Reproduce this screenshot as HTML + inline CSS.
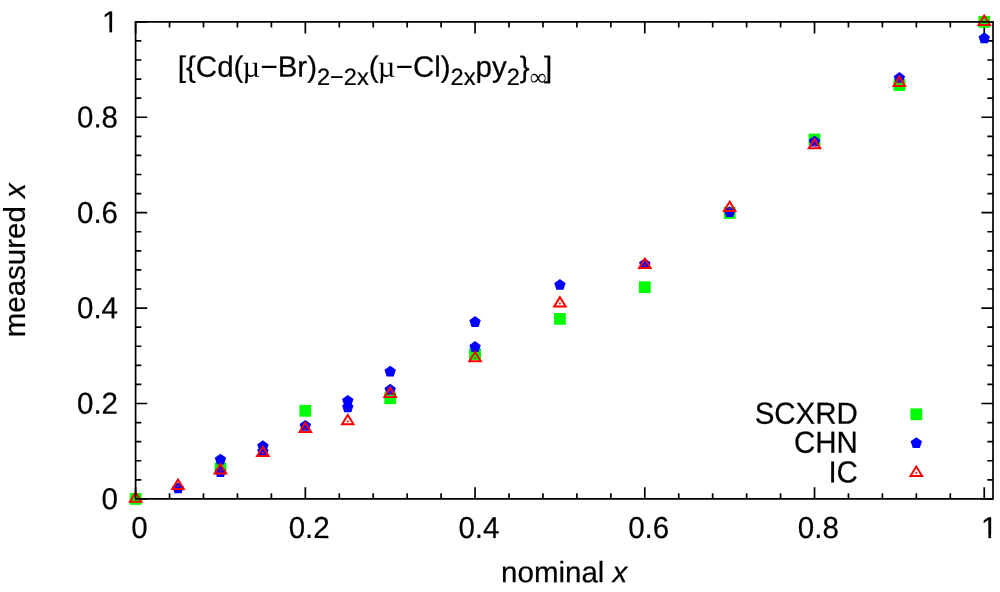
<!DOCTYPE html>
<html lang="en"><head><meta charset="utf-8"><title>measured x vs nominal x</title>
<style>html,body{margin:0;padding:0;background:#fff}body{width:1000px;height:592px;overflow:hidden}svg{display:block}text{font-family:"Liberation Sans",sans-serif;font-size:29.5px;fill:#000;stroke:#000;stroke-width:0.22px}.sym{font-family:"Liberation Serif",serif;stroke:none}.it{font-style:italic}</style></head><body>
<svg width="1000" height="592" viewBox="0 0 1000 592">
<rect width="1000" height="592" fill="#fff"/>
<g fill="none" stroke="#000" stroke-width="1.7">
<path d="M135.6 498.9v-11.6M135.6 21.85v11.6M169.55 498.9v-5.7M169.55 21.85v5.7M203.49 498.9v-5.7M203.49 21.85v5.7M237.44 498.9v-5.7M237.44 21.85v5.7M271.38 498.9v-5.7M271.38 21.85v5.7M305.33 498.9v-11.6M305.33 21.85v11.6M339.28 498.9v-5.7M339.28 21.85v5.7M373.22 498.9v-5.7M373.22 21.85v5.7M407.17 498.9v-5.7M407.17 21.85v5.7M441.11 498.9v-5.7M441.11 21.85v5.7M475.06 498.9v-11.6M475.06 21.85v11.6M509.01 498.9v-5.7M509.01 21.85v5.7M542.95 498.9v-5.7M542.95 21.85v5.7M576.9 498.9v-5.7M576.9 21.85v5.7M610.84 498.9v-5.7M610.84 21.85v5.7M644.79 498.9v-11.6M644.79 21.85v11.6M678.74 498.9v-5.7M678.74 21.85v5.7M712.68 498.9v-5.7M712.68 21.85v5.7M746.63 498.9v-5.7M746.63 21.85v5.7M780.57 498.9v-5.7M780.57 21.85v5.7M814.52 498.9v-11.6M814.52 21.85v11.6M848.47 498.9v-5.7M848.47 21.85v5.7M882.41 498.9v-5.7M882.41 21.85v5.7M916.36 498.9v-5.7M916.36 21.85v5.7M950.3 498.9v-5.7M950.3 21.85v5.7M984.25 498.9v-11.6M984.25 21.85v11.6M135.6 498.9h11.6M993 498.9h-11.6M135.6 479.82h5.7M993 479.82h-5.7M135.6 460.74h5.7M993 460.74h-5.7M135.6 441.65h5.7M993 441.65h-5.7M135.6 422.57h5.7M993 422.57h-5.7M135.6 403.49h11.6M993 403.49h-11.6M135.6 384.41h5.7M993 384.41h-5.7M135.6 365.33h5.7M993 365.33h-5.7M135.6 346.24h5.7M993 346.24h-5.7M135.6 327.16h5.7M993 327.16h-5.7M135.6 308.08h11.6M993 308.08h-11.6M135.6 289h5.7M993 289h-5.7M135.6 269.92h5.7M993 269.92h-5.7M135.6 250.83h5.7M993 250.83h-5.7M135.6 231.75h5.7M993 231.75h-5.7M135.6 212.67h11.6M993 212.67h-11.6M135.6 193.59h5.7M993 193.59h-5.7M135.6 174.51h5.7M993 174.51h-5.7M135.6 155.42h5.7M993 155.42h-5.7M135.6 136.34h5.7M993 136.34h-5.7M135.6 117.26h11.6M993 117.26h-11.6M135.6 98.18h5.7M993 98.18h-5.7M135.6 79.1h5.7M993 79.1h-5.7M135.6 60.01h5.7M993 60.01h-5.7M135.6 40.93h5.7M993 40.93h-5.7M135.6 21.85h11.6M993 21.85h-11.6"/>
</g>
<g fill="#00ff00">
<rect x="129.7" y="493" width="11.8" height="11.8"/>
<rect x="214.56" y="462.61" width="11.8" height="11.8"/>
<rect x="299.43" y="404.89" width="11.8" height="11.8"/>
<rect x="384.29" y="392.39" width="11.8" height="11.8"/>
<rect x="469.16" y="348.45" width="11.8" height="11.8"/>
<rect x="554.02" y="313.01" width="11.8" height="11.8"/>
<rect x="638.89" y="281.29" width="11.8" height="11.8"/>
<rect x="723.75" y="207.01" width="11.8" height="11.8"/>
<rect x="808.62" y="133.64" width="11.8" height="11.8"/>
<rect x="893.49" y="79.11" width="11.8" height="11.8"/>
<rect x="978.35" y="15.95" width="11.8" height="11.8"/>
<rect x="910.4" y="408.4" width="11.8" height="11.8"/>
</g>
<g fill="#0000ff">
<polygon points="178.03,482.45 172.33,486.6 174.51,493.31 181.56,493.31 183.74,486.6"/>
<polygon points="220.47,453.69 214.76,457.83 216.94,464.54 223.99,464.54 226.17,457.83"/>
<polygon points="220.47,466.04 214.76,470.19 216.94,476.9 223.99,476.9 226.17,470.19"/>
<polygon points="262.9,440.23 257.19,444.38 259.37,451.09 266.42,451.09 268.6,444.38"/>
<polygon points="262.9,445.53 257.19,449.67 259.37,456.38 266.42,456.38 268.6,449.67"/>
<polygon points="305.33,419.91 299.62,424.06 301.8,430.77 308.86,430.77 311.04,424.06"/>
<polygon points="347.76,394.96 342.06,399.11 344.24,405.82 351.29,405.82 353.47,399.11"/>
<polygon points="347.76,401.4 342.06,405.55 344.24,412.26 351.29,412.26 353.47,405.55"/>
<polygon points="390.19,365.67 384.49,369.82 386.67,376.52 393.72,376.52 395.9,369.82"/>
<polygon points="390.19,383.8 384.49,387.94 386.67,394.65 393.72,394.65 395.9,387.94"/>
<polygon points="475.06,316.06 469.35,320.2 471.53,326.91 478.59,326.91 480.77,320.2"/>
<polygon points="475.06,341.05 469.35,345.2 471.53,351.91 478.59,351.91 480.77,345.2"/>
<polygon points="559.92,278.99 554.22,283.14 556.4,289.84 563.45,289.84 565.63,283.14"/>
<polygon points="644.79,258.19 639.08,262.34 641.26,269.05 648.32,269.05 650.5,262.34"/>
<polygon points="729.65,206.15 723.95,210.29 726.13,217 733.18,217 735.36,210.29"/>
<polygon points="814.52,135.68 808.81,139.83 810.99,146.54 818.05,146.54 820.23,139.83"/>
<polygon points="899.38,72 893.68,76.14 895.86,82.85 902.91,82.85 905.09,76.14"/>
<polygon points="984.25,32.31 978.54,36.45 980.72,43.16 987.78,43.16 989.96,36.45"/>
<polygon points="916.3,437.2 910.59,441.35 912.77,448.05 919.83,448.05 922.01,441.35"/>
</g>
<g fill="none" stroke="#ff0000" stroke-width="2" stroke-linejoin="miter">
<path d="M135.6 492.46L129.85 501.77H141.35Z"/>
<path d="M178.03 479.58L172.28 488.89H183.78Z"/>
<path d="M220.47 464.08L214.72 473.39H226.22Z"/>
<path d="M262.9 446.76L257.15 456.07H268.65Z"/>
<path d="M305.33 422.57L299.58 431.89H311.08Z"/>
<path d="M347.76 414.99L342.01 424.3H353.51Z"/>
<path d="M390.19 387.6L384.44 396.92H395.94Z"/>
<path d="M475.06 351.92L469.31 361.24H480.81Z"/>
<path d="M559.92 297.11L554.17 306.42H565.67Z"/>
<path d="M644.79 258.75L639.04 268.07H650.54Z"/>
<path d="M729.65 201.75L723.9 211.06H735.4Z"/>
<path d="M814.52 138.97L808.77 148.28H820.27Z"/>
<path d="M899.38 76.62L893.63 85.93H905.13Z"/>
<path d="M984.25 15.65L978.5 24.96H990Z"/>
<path d="M916.3 466.56L910.55 475.88H922.05Z"/>
</g>
<g fill="#ff0000">
<circle cx="135.6" cy="498.9" r="0.95"/>
<circle cx="178.03" cy="486.02" r="0.95"/>
<circle cx="220.47" cy="470.52" r="0.95"/>
<circle cx="262.9" cy="453.2" r="0.95"/>
<circle cx="305.33" cy="429.01" r="0.95"/>
<circle cx="347.76" cy="421.43" r="0.95"/>
<circle cx="390.19" cy="394.04" r="0.95"/>
<circle cx="475.06" cy="358.36" r="0.95"/>
<circle cx="559.92" cy="303.55" r="0.95"/>
<circle cx="644.79" cy="265.19" r="0.95"/>
<circle cx="729.65" cy="208.19" r="0.95"/>
<circle cx="814.52" cy="145.41" r="0.95"/>
<circle cx="899.38" cy="83.06" r="0.95"/>
<circle cx="984.25" cy="22.09" r="0.95"/>
<circle cx="916.3" cy="473" r="0.95"/>
</g>
<path d="M135.6 21.85H993V498.9H135.6Z" fill="none" stroke="#000" stroke-width="1.7" stroke-linejoin="miter"/>
<defs>
<clipPath id="c1x"><rect x="978.9" y="508.1" width="24" height="26.74"/><rect x="988.35" y="534.64" width="2.72" height="4.26"/></clipPath>
<clipPath id="c1y"><rect x="99.95" y="2.15" width="24" height="26.74"/><rect x="109.4" y="28.69" width="2.72" height="4.26"/></clipPath>
</defs>
<text transform="translate(139.45 538.1) rotate(0.03) scale(1 1.027)" text-anchor="middle">0</text>
<text transform="translate(309.18 538.1) rotate(0.03) scale(1 1.027)" text-anchor="middle">0.2</text>
<text transform="translate(478.91 538.1) rotate(0.03) scale(1 1.027)" text-anchor="middle">0.4</text>
<text transform="translate(648.64 538.1) rotate(0.03) scale(1 1.027)" text-anchor="middle">0.6</text>
<text transform="translate(818.37 538.1) rotate(0.03) scale(1 1.027)" text-anchor="middle">0.8</text>
<g clip-path="url(#c1x)"><text transform="translate(989.1 538.1) rotate(0.03) scale(1 1.027)" text-anchor="middle">1</text></g>
<text transform="translate(118 509.2) rotate(0.03) scale(1 1.027)" text-anchor="end">0</text>
<text transform="translate(118 413.79) rotate(0.03) scale(1 1.027)" text-anchor="end">0.2</text>
<text transform="translate(118 318.38) rotate(0.03) scale(1 1.027)" text-anchor="end">0.4</text>
<text transform="translate(118 222.97) rotate(0.03) scale(1 1.027)" text-anchor="end">0.6</text>
<text transform="translate(118 127.56) rotate(0.03) scale(1 1.027)" text-anchor="end">0.8</text>
<g clip-path="url(#c1y)"><text transform="translate(118.35 32.15) rotate(0.03) scale(1 1.027)" text-anchor="end">1</text></g>
<text transform="translate(564.2 582.2) rotate(0.03)" text-anchor="middle">nominal <tspan class="it">x</tspan></text>
<text transform="translate(25.1 260.2) rotate(-90)" text-anchor="middle">measured <tspan class="it">x</tspan></text>
<text transform="translate(857.9 423.8) rotate(0.03) scale(1 1.035)" text-anchor="end">SCXRD</text>
<text transform="translate(857.9 452.8) rotate(0.03) scale(1 1.035)" text-anchor="end">CHN</text>
<text transform="translate(857.9 482.6) rotate(0.03) scale(1 1.035)" text-anchor="end">IC</text>
<text transform="translate(177.8 76.7) rotate(0.03)">[{Cd(<tspan class="sym" font-size="30.5" dx="-0.9">µ</tspan><tspan dx="0.35">−</tspan>Br)<tspan dy="8.2" font-size="23.6">2−2x</tspan><tspan dy="-8.2">(</tspan><tspan class="sym" font-size="30.5" dx="-0.9">µ</tspan><tspan dx="0.35">−</tspan>Cl)<tspan dy="8.2" font-size="23.6">2x</tspan><tspan dy="-8.2">py</tspan><tspan dy="8.2" font-size="23.6">2</tspan><tspan dy="-8.2">}</tspan><tspan dy="8.2" font-size="23.6" class="sym">∞</tspan><tspan dx="-2.6" dy="-8.2">]</tspan></text>
</svg></body></html>
